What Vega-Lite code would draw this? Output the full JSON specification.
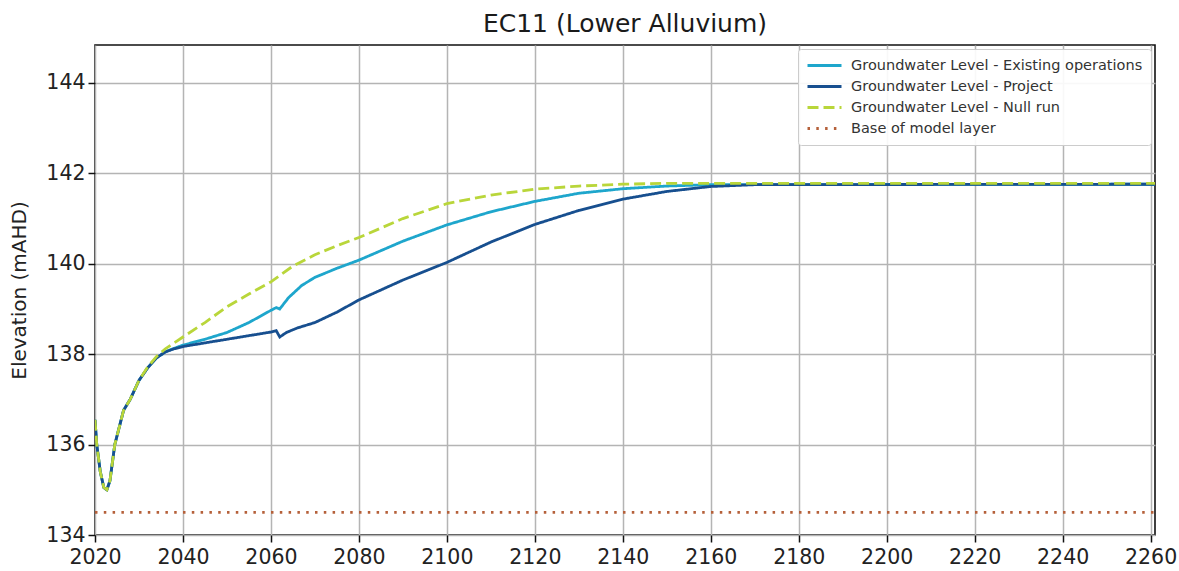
{
  "$schema": "https://vega.github.io/schema/vega-lite/v6.json",
  "autosize": {"type": "none"},
  "width": 1060,
  "height": 490,
  "padding": {"left": 95, "top": 45, "right": 24, "bottom": 36},
  "background": "white",
  "title": {"text": "EC11 (Lower Alluvium)", "font": "DejaVu Sans", "fontSize": 25, "fontWeight": "normal", "color": "#1a1a1a", "offset": 8, "anchor": "middle"},
  "config": {
    "view": {"stroke": "#111111", "strokeWidth": 1.6},
    "axis": {
      "labelFont": "DejaVu Sans", "labelFontSize": 20.5, "labelColor": "#222222", "labelFlush": false,
      "titleFont": "DejaVu Sans", "titleFontSize": 20, "titleFontWeight": "normal", "titleColor": "#222222",
      "grid": true, "gridColor": "#b4b4b4", "gridWidth": 1.5,
      "domain": false, "tickColor": "#111111", "tickSize": 7, "tickWidth": 1.5, "labelPadding": 3
    }
  },
  "data": {"values": [
    {"series": "Groundwater Level - Existing operations", "year": 2020, "level": 136.55},
    {"series": "Groundwater Level - Existing operations", "year": 2020.4, "level": 136.0},
    {"series": "Groundwater Level - Existing operations", "year": 2021.2, "level": 135.4},
    {"series": "Groundwater Level - Existing operations", "year": 2022.0, "level": 135.05},
    {"series": "Groundwater Level - Existing operations", "year": 2022.7, "level": 135.0},
    {"series": "Groundwater Level - Existing operations", "year": 2023.4, "level": 135.2},
    {"series": "Groundwater Level - Existing operations", "year": 2024.5, "level": 136.0},
    {"series": "Groundwater Level - Existing operations", "year": 2026.5, "level": 136.76},
    {"series": "Groundwater Level - Existing operations", "year": 2028, "level": 137.0},
    {"series": "Groundwater Level - Existing operations", "year": 2030, "level": 137.42},
    {"series": "Groundwater Level - Existing operations", "year": 2032, "level": 137.7},
    {"series": "Groundwater Level - Existing operations", "year": 2034, "level": 137.92},
    {"series": "Groundwater Level - Existing operations", "year": 2036, "level": 138.05},
    {"series": "Groundwater Level - Existing operations", "year": 2038, "level": 138.13},
    {"series": "Groundwater Level - Existing operations", "year": 2040, "level": 138.2},
    {"series": "Groundwater Level - Existing operations", "year": 2045, "level": 138.33},
    {"series": "Groundwater Level - Existing operations", "year": 2050, "level": 138.48},
    {"series": "Groundwater Level - Existing operations", "year": 2055, "level": 138.7},
    {"series": "Groundwater Level - Existing operations", "year": 2060, "level": 138.97},
    {"series": "Groundwater Level - Existing operations", "year": 2061.2, "level": 139.03},
    {"series": "Groundwater Level - Existing operations", "year": 2062, "level": 139.0},
    {"series": "Groundwater Level - Existing operations", "year": 2064, "level": 139.25},
    {"series": "Groundwater Level - Existing operations", "year": 2067, "level": 139.52},
    {"series": "Groundwater Level - Existing operations", "year": 2070, "level": 139.7},
    {"series": "Groundwater Level - Existing operations", "year": 2075, "level": 139.9},
    {"series": "Groundwater Level - Existing operations", "year": 2080, "level": 140.08},
    {"series": "Groundwater Level - Existing operations", "year": 2090, "level": 140.5},
    {"series": "Groundwater Level - Existing operations", "year": 2100, "level": 140.86},
    {"series": "Groundwater Level - Existing operations", "year": 2110, "level": 141.15},
    {"series": "Groundwater Level - Existing operations", "year": 2120, "level": 141.38},
    {"series": "Groundwater Level - Existing operations", "year": 2130, "level": 141.56},
    {"series": "Groundwater Level - Existing operations", "year": 2140, "level": 141.66},
    {"series": "Groundwater Level - Existing operations", "year": 2150, "level": 141.72},
    {"series": "Groundwater Level - Existing operations", "year": 2160, "level": 141.75},
    {"series": "Groundwater Level - Existing operations", "year": 2261, "level": 141.76},

    {"series": "Groundwater Level - Project", "year": 2020, "level": 136.55},
    {"series": "Groundwater Level - Project", "year": 2020.4, "level": 136.0},
    {"series": "Groundwater Level - Project", "year": 2021.2, "level": 135.4},
    {"series": "Groundwater Level - Project", "year": 2022.0, "level": 135.05},
    {"series": "Groundwater Level - Project", "year": 2022.7, "level": 135.0},
    {"series": "Groundwater Level - Project", "year": 2023.4, "level": 135.2},
    {"series": "Groundwater Level - Project", "year": 2024.5, "level": 136.0},
    {"series": "Groundwater Level - Project", "year": 2026.5, "level": 136.76},
    {"series": "Groundwater Level - Project", "year": 2028, "level": 137.0},
    {"series": "Groundwater Level - Project", "year": 2030, "level": 137.42},
    {"series": "Groundwater Level - Project", "year": 2032, "level": 137.7},
    {"series": "Groundwater Level - Project", "year": 2034, "level": 137.92},
    {"series": "Groundwater Level - Project", "year": 2036, "level": 138.05},
    {"series": "Groundwater Level - Project", "year": 2038, "level": 138.12},
    {"series": "Groundwater Level - Project", "year": 2040, "level": 138.17},
    {"series": "Groundwater Level - Project", "year": 2045, "level": 138.25},
    {"series": "Groundwater Level - Project", "year": 2050, "level": 138.33},
    {"series": "Groundwater Level - Project", "year": 2055, "level": 138.41},
    {"series": "Groundwater Level - Project", "year": 2060, "level": 138.49},
    {"series": "Groundwater Level - Project", "year": 2061.2, "level": 138.52},
    {"series": "Groundwater Level - Project", "year": 2062, "level": 138.38},
    {"series": "Groundwater Level - Project", "year": 2063.5, "level": 138.48},
    {"series": "Groundwater Level - Project", "year": 2066, "level": 138.58},
    {"series": "Groundwater Level - Project", "year": 2070, "level": 138.7},
    {"series": "Groundwater Level - Project", "year": 2075, "level": 138.93},
    {"series": "Groundwater Level - Project", "year": 2080, "level": 139.2},
    {"series": "Groundwater Level - Project", "year": 2090, "level": 139.64},
    {"series": "Groundwater Level - Project", "year": 2100, "level": 140.03},
    {"series": "Groundwater Level - Project", "year": 2110, "level": 140.48},
    {"series": "Groundwater Level - Project", "year": 2120, "level": 140.87},
    {"series": "Groundwater Level - Project", "year": 2130, "level": 141.18},
    {"series": "Groundwater Level - Project", "year": 2140, "level": 141.43},
    {"series": "Groundwater Level - Project", "year": 2150, "level": 141.6},
    {"series": "Groundwater Level - Project", "year": 2160, "level": 141.71},
    {"series": "Groundwater Level - Project", "year": 2170, "level": 141.75},
    {"series": "Groundwater Level - Project", "year": 2261, "level": 141.76},

    {"series": "Groundwater Level - Null run", "year": 2020, "level": 136.55},
    {"series": "Groundwater Level - Null run", "year": 2020.4, "level": 136.0},
    {"series": "Groundwater Level - Null run", "year": 2021.2, "level": 135.4},
    {"series": "Groundwater Level - Null run", "year": 2022.0, "level": 135.05},
    {"series": "Groundwater Level - Null run", "year": 2022.7, "level": 135.0},
    {"series": "Groundwater Level - Null run", "year": 2023.4, "level": 135.2},
    {"series": "Groundwater Level - Null run", "year": 2024.5, "level": 136.0},
    {"series": "Groundwater Level - Null run", "year": 2026.5, "level": 136.76},
    {"series": "Groundwater Level - Null run", "year": 2028, "level": 137.0},
    {"series": "Groundwater Level - Null run", "year": 2030, "level": 137.42},
    {"series": "Groundwater Level - Null run", "year": 2032, "level": 137.72},
    {"series": "Groundwater Level - Null run", "year": 2034, "level": 137.95},
    {"series": "Groundwater Level - Null run", "year": 2036, "level": 138.12},
    {"series": "Groundwater Level - Null run", "year": 2040, "level": 138.38},
    {"series": "Groundwater Level - Null run", "year": 2045, "level": 138.7},
    {"series": "Groundwater Level - Null run", "year": 2050, "level": 139.05},
    {"series": "Groundwater Level - Null run", "year": 2055, "level": 139.33},
    {"series": "Groundwater Level - Null run", "year": 2060, "level": 139.6},
    {"series": "Groundwater Level - Null run", "year": 2065, "level": 139.95},
    {"series": "Groundwater Level - Null run", "year": 2070, "level": 140.2},
    {"series": "Groundwater Level - Null run", "year": 2075, "level": 140.4},
    {"series": "Groundwater Level - Null run", "year": 2080, "level": 140.58},
    {"series": "Groundwater Level - Null run", "year": 2090, "level": 141.0},
    {"series": "Groundwater Level - Null run", "year": 2100, "level": 141.33},
    {"series": "Groundwater Level - Null run", "year": 2110, "level": 141.52},
    {"series": "Groundwater Level - Null run", "year": 2120, "level": 141.65},
    {"series": "Groundwater Level - Null run", "year": 2130, "level": 141.72},
    {"series": "Groundwater Level - Null run", "year": 2140, "level": 141.76},
    {"series": "Groundwater Level - Null run", "year": 2150, "level": 141.78},
    {"series": "Groundwater Level - Null run", "year": 2261, "level": 141.78},

    {"series": "Base of model layer", "year": 2020, "level": 134.5},
    {"series": "Base of model layer", "year": 2261, "level": 134.5}
  ]},
  "mark": {"type": "line", "strokeWidth": 2.8, "clip": true},
  "encoding": {
    "x": {"field": "year", "type": "quantitative", "title": null,
      "scale": {"domain": [2020, 2261], "nice": false, "zero": false},
      "axis": {"values": [2020, 2040, 2060, 2080, 2100, 2120, 2140, 2160, 2180, 2200, 2220, 2240, 2260], "format": "d", "labelPadding": 5}},
    "y": {"field": "level", "type": "quantitative", "title": "Elevation (mAHD)",
      "scale": {"domain": [134, 144.84], "nice": false, "zero": false},
      "axis": {"values": [134, 136, 138, 140, 142, 144], "titlePadding": 16}},
    "color": {"field": "series", "type": "nominal",
      "scale": {"domain": ["Groundwater Level - Existing operations", "Groundwater Level - Project", "Groundwater Level - Null run", "Base of model layer"],
                "range": ["#1ea6cc", "#174f8f", "#b9d63a", "#b5603a"]},
      "legend": {"title": null, "orient": "none", "legendX": 703, "legendY": 4,
        "symbolType": "stroke", "symbolSize": 1156, "symbolStrokeWidth": 3,
        "labelFont": "DejaVu Sans", "labelFontSize": 14.5, "labelColor": "#333333", "labelLimit": 400,
        "fillColor": "rgba(255,255,255,0.9)", "strokeColor": "#cccccc", "cornerRadius": 3,
        "padding": 8, "clipHeight": 17, "rowPadding": 4, "labelOffset": 8}},
    "strokeDash": {"field": "series", "type": "nominal",
      "scale": {"domain": ["Groundwater Level - Existing operations", "Groundwater Level - Project", "Groundwater Level - Null run", "Base of model layer"],
                "range": [[1, 0], [1, 0], [11, 5], [2.5, 6.3]]},
      "legend": null}
  }
}
